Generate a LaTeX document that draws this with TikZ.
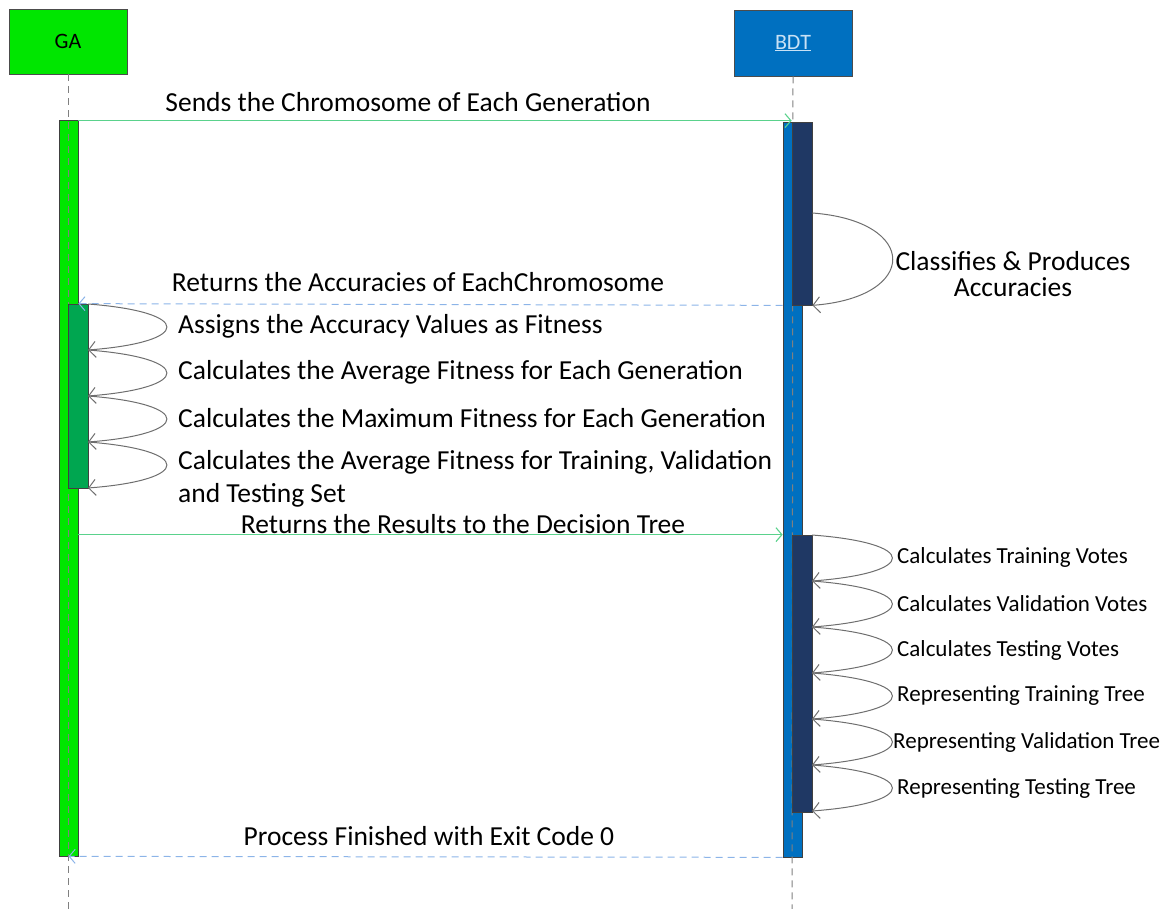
\documentclass[tikz,border=0pt]{standalone}
\usepackage{fontspec}
\setmainfont{Carlito}
\usetikzlibrary{arrows.meta}
\definecolor{gagreen}{RGB}{0,230,0}
\definecolor{gadark}{RGB}{0,166,80}
\definecolor{bdtblue}{RGB}{0,112,192}
\definecolor{bdtnavy}{RGB}{31,56,100}
\definecolor{msggreen}{RGB}{90,210,140}
\definecolor{retblue}{RGB}{140,180,232}
\definecolor{loopgray}{RGB}{110,110,110}
\definecolor{bdttext}{RGB}{200,225,245}
\tikzset{
  actor/.style={draw=black!70, line width=0.8pt, minimum width=118pt, minimum height=65pt, inner sep=0pt},
  actbar/.style={draw=black!75, line width=0.7pt, inner sep=0pt},
  lifeline/.style={draw=gray, line width=1pt, dash pattern=on 7pt off 5pt},
  msg/.style={draw=msggreen, line width=1.1pt, -{Straight Barb[length=6pt,width=14pt]}},
  ret/.style={draw=retblue, line width=1pt, dash pattern=on 7pt off 5pt, -{Straight Barb[length=6pt,width=14pt]}},
  selfloop/.style={draw=loopgray, line width=1pt, -{Straight Barb[length=7pt,width=16pt]}},
  biglabel/.style={font=\fontsize{27.5}{33}\selectfont, inner sep=0pt},
  smalllabel/.style={font=\fontsize{23}{27}\selectfont, inner sep=0pt, anchor=west},
}
\begin{document}
\begin{tikzpicture}[x=1pt,y=-1pt]
\useasboundingbox (0,0) rectangle (1169,909);
% actors
\node[actor, fill=gagreen] (ga) at (68,41.5) {\fontsize{22}{26}\selectfont GA};
\node[actor, fill=bdtblue, minimum height=66pt] (bdt) at (793,43) {\fontsize{22}{26}\selectfont\color{bdttext}\underline{BDT}};
% outer activation bars
\node[actbar, fill=gagreen, minimum width=19pt, minimum height=736pt] (gaact) at (68.5,488) {};
\node[actbar, fill=bdtblue, minimum width=19pt, minimum height=735pt] (bdtact) at (792.5,489.5) {};
% lifelines
\coordinate (gaend) at (68,909);
\coordinate (bdtend) at (792,909);
\draw[lifeline] (ga.south) -- (gaend);
\draw[lifeline] (bdt.south) -- (bdtend);
% inner activation bars
\node[actbar, fill=gadark, minimum width=20pt, minimum height=184pt] (gain) at (78,396) {};
\node[actbar, fill=bdtnavy, minimum width=20pt, minimum height=183pt] (bdtin1) at (802,213.5) {};
\node[actbar, fill=bdtnavy, minimum width=20pt, minimum height=277pt] (bdtin2) at (802,673.5) {};
% messages
\coordinate (m1s) at (gaact.north east);
\draw[msg] ([yshift=-1pt]m1s) -- ([yshift=-1pt]m1s -| bdtin1.west);
\node[biglabel] (l1) at (408,102) {Sends the Chromosome of Each Generation};
\draw[selfloop] (bdtin1.east |- 0,213) .. controls +(107,8) and +(107,-8) .. (bdtin1.south east);
\node[biglabel, align=center, font=\fontsize{27.5}{26}\selectfont] (l2) at (1013,274) {Classifies \& Produces\\Accuracies};
\draw[ret] (bdtact.west |- bdtin1.south) -- (gaact.east |- gain.north);
\node[biglabel] (l3) at (418,282) {Returns the Accuracies of EachChromosome};
% GA self loops
\coordinate (g0) at (88,304);
\coordinate (g1) at (88,350);
\coordinate (g2) at (88,396);
\coordinate (g3) at (88,442);
\coordinate (g4) at (88,488);
\draw[selfloop] (g0) .. controls +(105,8) and +(105,-8) .. (g1);
\draw[selfloop] (g1) .. controls +(105,8) and +(105,-8) .. (g2);
\draw[selfloop] (g2) .. controls +(105,8) and +(105,-8) .. (g3);
\draw[selfloop] (g3) .. controls +(105,8) and +(105,-8) .. (g4);
\node[biglabel, anchor=west] (gl1) at (178,326) {Assigns the Accuracy Values as Fitness};
\node[biglabel, anchor=west] (gl2) at (178,372) {Calculates the Average Fitness for Each Generation};
\node[biglabel, anchor=west] (gl3) at (178,418) {Calculates the Maximum Fitness for Each Generation};
\node[biglabel, anchor=west, align=left] (gl4) at (178,479) {Calculates the Average Fitness for Training, Validation\\and Testing Set};
% results to decision tree
\draw[msg] (gaact.east |- bdtin2.north) -- (bdtact.west |- bdtin2.north);
\node[biglabel] (l4) at (463,524) {Returns the Results to the Decision Tree};
% BDT self loops
\coordinate (b0) at (812,535);
\coordinate (b1) at (812,581);
\coordinate (b2) at (812,627);
\coordinate (b3) at (812,673);
\coordinate (b4) at (812,719);
\coordinate (b5) at (812,765);
\coordinate (b6) at (812,811);
\draw[selfloop] (b0) .. controls +(107,8) and +(107,-8) .. (b1);
\draw[selfloop] (b1) .. controls +(107,8) and +(107,-8) .. (b2);
\draw[selfloop] (b2) .. controls +(107,8) and +(107,-8) .. (b3);
\draw[selfloop] (b3) .. controls +(107,8) and +(107,-8) .. (b4);
\draw[selfloop] (b4) .. controls +(107,8) and +(107,-8) .. (b5);
\draw[selfloop] (b5) .. controls +(107,8) and +(107,-8) .. (b6);
\node[smalllabel] (bl1) at (897,557) {Calculates Training Votes};
\node[smalllabel] (bl2) at (897,604) {Calculates Validation Votes};
\node[smalllabel] (bl3) at (897,650) {Calculates Testing Votes};
\node[smalllabel] (bl4) at (897,696) {Representing Training Tree};
\node[smalllabel] (bl5) at (893,742) {Representing Validation Tree};
\node[smalllabel] (bl6) at (897,789) {Representing Testing Tree};
% final return
\draw[ret] (bdtact.south west) -- (gaact.south);
\node[biglabel] (l5) at (429,836) {Process Finished with Exit Code 0};
\end{tikzpicture}
\end{document}
